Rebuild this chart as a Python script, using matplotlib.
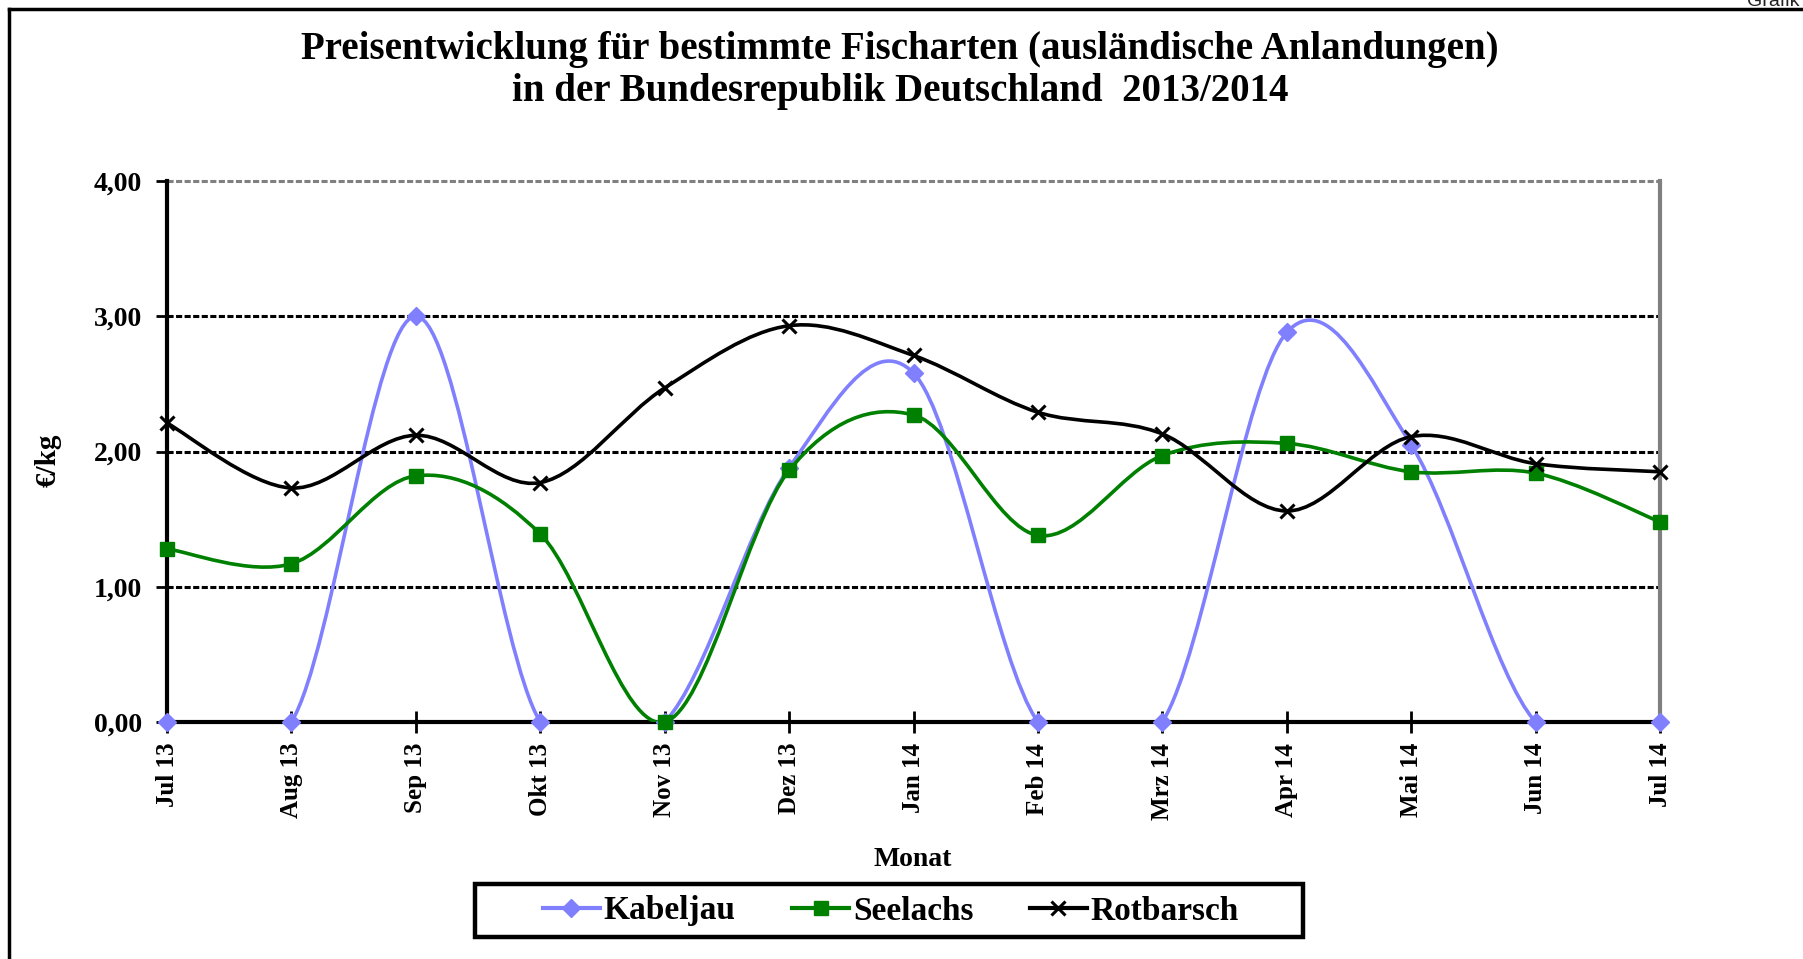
import numpy as np
import matplotlib.pyplot as plt
from matplotlib.path import Path
from matplotlib.patches import PathPatch, Rectangle
from matplotlib.lines import Line2D

plt.rcParams['font.family'] = ['Liberation Serif', 'DejaVu Serif']
plt.rcParams['font.weight'] = 'bold'

months = ['Jul 13', 'Aug 13', 'Sep 13', 'Okt 13', 'Nov 13', 'Dez 13', 'Jan 14',
          'Feb 14', 'Mrz 14', 'Apr 14', 'Mai 14', 'Jun 14', 'Jul 14']
kabeljau = [0.00, 0.00, 3.00, 0.00, 0.00, 1.88, 2.58, 0.00, 0.00, 2.88, 2.05, 0.00, 0.00]
seelachs = [1.28, 1.17, 1.82, 1.39, 0.00, 1.86, 2.27, 1.38, 1.97, 2.06, 1.85, 1.84, 1.48]
rotbarsch = [2.21, 1.73, 2.12, 1.77, 2.47, 2.93, 2.71, 2.29, 2.13, 1.56, 2.11, 1.91, 1.85]
yticks = [0, 1, 2, 3, 4]

BLUE = '#8080FF'
GREEN = '#008000'

W, H = 1803, 959
AX_L, AX_R, AX_T, AX_B = 167, 1660, 181, 722


def smooth_path(x, y, sx, sy):
    """Excel-style smoothed line (Bezier, tension 1/6, arms capped at half a segment).

    sx, sy: pixels per data unit, so the cap is applied in screen space.
    """
    pts = np.column_stack([np.asarray(x) * sx, np.asarray(y) * sy]).astype(float)
    n = len(pts)
    verts = [pts[0]]
    codes = [Path.MOVETO]
    for i in range(n - 1):
        p0 = pts[max(i - 1, 0)]
        p1 = pts[i]
        p2 = pts[i + 1]
        p3 = pts[min(i + 2, n - 1)]
        d12 = np.hypot(*(p2 - p1))
        d02 = np.hypot(*(p2 - p0))
        d13 = np.hypot(*(p3 - p1))
        f0 = 1 / 6 if d02 / 6 < d12 / 2 else d12 / d02 / 2
        f1 = 1 / 6 if d13 / 6 < d12 / 2 else d12 / d13 / 2
        c1 = p1 + f0 * (p2 - p0)
        c2 = p2 - f1 * (p3 - p1)
        verts += [c1, c2, p2]
        codes += [Path.CURVE4] * 3
    verts = np.array(verts)
    verts[:, 0] /= sx
    verts[:, 1] /= sy
    return Path(verts, codes)


fig = plt.figure(figsize=(W / 100, H / 100), dpi=100)
ax = fig.add_axes([AX_L / W, 1 - AX_B / H, (AX_R - AX_L) / W, (AX_B - AX_T) / H])

x = np.arange(len(months))
sx = (AX_R - AX_L) / 12
sy = (AX_B - AX_T) / 4
series = [
    ('Kabeljau', kabeljau, BLUE, 'D', 9.5),
    ('Seelachs', seelachs, GREEN, 's', 10.5),
    ('Rotbarsch', rotbarsch, 'black', 'x', 10.5),
]

# gridlines
for v in yticks[1:4]:
    ax.axhline(v, color='black', lw=2.2, ls=(0, (2.0, 0.8)), zorder=1)
ax.axhline(4, color='#808080', lw=2.2, ls=(0, (2.0, 0.8)), zorder=1, clip_on=False)

for name, vals, col, mk, ms in series:
    patch = PathPatch(smooth_path(x, vals, sx, sy), facecolor='none', edgecolor=col,
                      lw=2.6, zorder=3)
    ax.add_patch(patch)
    ax.plot(x, vals, ls='none', marker=mk, color=col, ms=ms,
            mew=2.2 if mk == 'x' else 1, zorder=4, clip_on=False)

ax.set_xlim(0, 12)
ax.set_ylim(0, 4)
ax.set_xticks(x)
ax.set_xticklabels(months, rotation=90, fontsize=18, fontweight='bold')
ax.set_yticks(yticks)
ax.set_yticklabels([f'{v:.2f}'.replace('.', ',') for v in yticks],
                   fontsize=20, fontweight='bold')
ax.tick_params(axis='x', direction='inout', length=16, width=2, pad=7)
ax.tick_params(axis='y', direction='out', length=8, width=2, pad=10)

ax.spines['top'].set_visible(False)
ax.spines['left'].set_linewidth(3)
ax.spines['bottom'].set_linewidth(3)
ax.spines['right'].set_color('#808080')
ax.spines['right'].set_linewidth(3)

fig.text(913 / W, 1 - 860 / H, 'Monat', ha='center', va='center',
         fontsize=20, fontweight='bold')
fig.text(48 / W, 1 - 460 / H, '€/kg', ha='center', va='center', rotation=90,
         fontsize=21, fontweight='bold')

fig.text(900 / W, 1 - 49 / H,
         'Preisentwicklung für bestimmte Fischarten (ausländische Anlandungen)',
         ha='center', va='center', fontsize=28, fontweight='bold')
fig.text(900 / W, 1 - 91 / H,
         'in der Bundesrepublik Deutschland  2013/2014',
         ha='center', va='center', fontsize=28, fontweight='bold')

# legend: frameless legend inside a drawn box
fig.add_artist(Rectangle((475 / W, 1 - 937 / H), (1303 - 475) / W, (937 - 884) / H,
                         transform=fig.transFigure, facecolor='white',
                         edgecolor='black', lw=3.2))
handles = [Line2D([], [], color=col, lw=3, marker=mk, ms=ms,
                  mew=2.2 if mk == 'x' else 1)
           for _, _, col, mk, ms in series]
leg = fig.legend(handles, [s[0] for s in series], ncol=3,
                 loc='center', bbox_to_anchor=(891 / W, 1 - 911 / H),
                 frameon=False, prop={'size': 24, 'weight': 'bold'},
                 handlelength=1.7, handletextpad=0.12, columnspacing=1.7)

# outer frame of the chart area, partly cut by the image edge
fig.add_artist(Line2D([9 / W, 1], [1 - 9 / H, 1 - 9 / H],
                      color='black', lw=2.5, transform=fig.transFigure))
fig.add_artist(Line2D([9 / W, 9 / W], [0, 1 - 9 / H],
                      color='black', lw=2.5, transform=fig.transFigure))
fig.text(1800 / W, 1 - 6 / H, 'Grafik', ha='right', va='baseline',
         fontsize=14, family='Liberation Sans', fontweight='normal', color='#222222')

fig.savefig('out.png', dpi=100)
